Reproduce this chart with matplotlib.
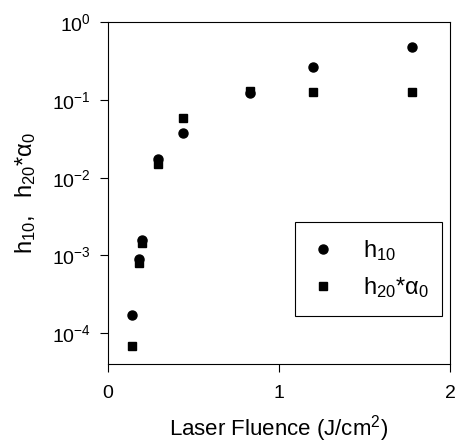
import matplotlib
matplotlib.use("Agg")
import matplotlib.pyplot as plt

plt.rcParams['font.family'] = ['Liberation Sans', 'DejaVu Sans']
plt.rcParams['mathtext.fontset'] = 'custom'
plt.rcParams['mathtext.rm'] = 'Liberation Sans'
plt.rcParams['mathtext.it'] = 'Liberation Sans'

# datos
fluencia_h10 = [0.14, 0.183, 0.197, 0.296, 0.44, 0.83, 1.20, 1.776]
h10 = [1.69e-4, 9.1e-4, 1.56e-3, 0.0174, 0.037, 0.124, 0.263, 0.473]

fluencia_h20 = [0.14, 0.183, 0.197, 0.296, 0.44, 0.83, 1.20, 1.776]
h20_alfa = [6.9e-5, 8.1e-4, 1.43e-3, 0.0148, 0.059, 0.130, 0.128, 0.125]

fig = plt.figure(figsize=(4.55, 4.43), dpi=100)
ax = fig.add_axes([0.237, 0.178, 0.752, 0.772])

ax.plot(fluencia_h10, h10, 'o', color='black', markersize=6.5, label=r'$\mathregular{h_{10}}$')
ax.plot(fluencia_h20, h20_alfa, 's', color='black', markersize=5.8, label=r'$\mathregular{h_{20}{*}α_0}$')

ax.set_yscale('log')
ax.set_xlim(0, 2)
ax.set_ylim(4e-5, 1)
ax.set_xticks([0, 1, 2])
ax.set_yticks([1e-4, 1e-3, 1e-2, 1e-1, 1])
ax.minorticks_off()
ax.tick_params(axis='both', labelsize=14, direction='out', length=6, width=0.8)
ax.tick_params(axis='y', pad=6)
ax.tick_params(axis='x', pad=9)

ax.set_xlabel(r'Laser Fluence (J/cm$\mathregular{^2}$)', fontsize=16, labelpad=8)
ax.set_ylabel(r'$\mathregular{h_{10},\ \ h_{20}{*}α_0}$', fontsize=17, labelpad=10)

leg = ax.legend(loc='lower left', bbox_to_anchor=(0.547, 0.14, 0.43, 0.273), mode='expand',
                borderaxespad=0, fontsize=17, frameon=True, fancybox=False, edgecolor='black',
                handlelength=1.0, handletextpad=1.2, borderpad=0.7, labelspacing=0.5,
                numpoints=1)
leg.get_frame().set_linewidth(0.8)
leg.get_frame().set_alpha(1)

plt.savefig('out.png', dpi=100)
